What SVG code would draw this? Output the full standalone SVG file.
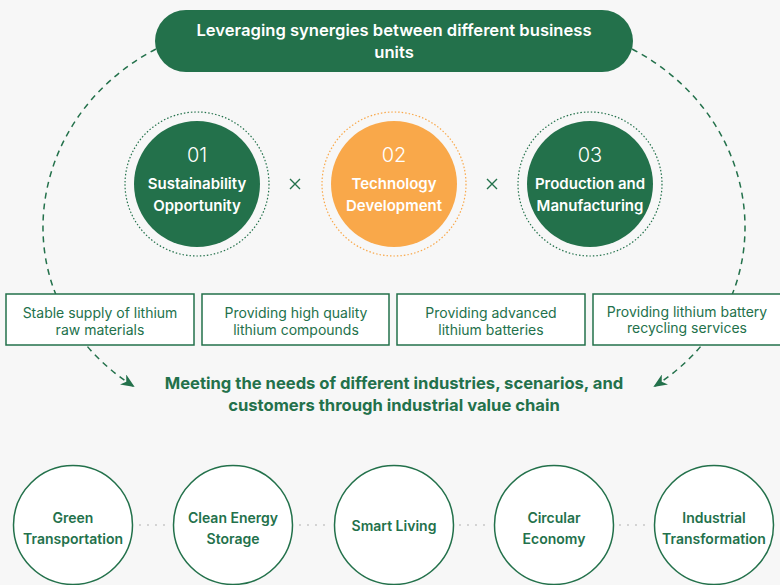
<svg xmlns="http://www.w3.org/2000/svg" width="780" height="585" viewBox="0 0 780 585">
<style>
.t{font-family:Inter,"Noto Sans","Liberation Sans",sans-serif;text-anchor:middle}
.w{fill:#fff}
.g{fill:#23714b}
.b{font-weight:600}
.pill{fill:#23714b}
.ring{fill:none;stroke-width:1.2;stroke-dasharray:1.5 2}
.box{fill:#fff;stroke:#23714b;stroke-width:1.5}
.bc{fill:#fff;stroke:#23714b;stroke-width:1.5}
.arc{fill:none;stroke:#23714b;stroke-width:1.5;stroke-dasharray:6 5}
.dots{stroke:#c8c8c8;stroke-width:2;stroke-linecap:round;stroke-dasharray:0 8}
.x{stroke:#23714b;stroke-width:1.4}
</style>
<defs>
<marker id="ah" viewBox="0 0 14 12" refX="12" refY="6" markerWidth="14" markerHeight="12" markerUnits="userSpaceOnUse" orient="auto">
<path d="M0,0 L14,6 L0,12 L4,6 Z" fill="#23714b"/>
</marker>
</defs>
<rect width="780" height="585" fill="#f7f7f7"/>
<g id="connectors">
<path class="arc" d="M156,49 C20,120 0,300 133,386" marker-end="url(#ah)"/>
<path class="arc" d="M632,49 C768,120 788,300 655,386" marker-end="url(#ah)"/>
<line class="dots" x1="140" y1="525" x2="168" y2="525"/>
<line class="dots" x1="300" y1="525" x2="328" y2="525"/>
<line class="dots" x1="460" y1="525" x2="488" y2="525"/>
<line class="dots" x1="620" y1="525" x2="648" y2="525"/>
</g>
<g id="top">
<rect class="pill" x="155" y="10" width="478" height="62" rx="31"/>
<text class="t w b" font-size="16.6"><tspan x="394" y="36">Leveraging synergies between different business</tspan><tspan x="394" y="58">units</tspan></text>
</g>
<g id="n1">
<circle class="ring" cx="197" cy="184" r="72" stroke="#23714b"/>
<circle cx="197" cy="184" r="63" fill="#23714b"/>
<text class="t w" font-size="20" font-weight="300" x="197" y="162">01</text>
<text class="t w b" font-size="15"><tspan x="197" y="189">Sustainability</tspan><tspan x="197" y="211">Opportunity</tspan></text>
</g>
<g id="n2">
<circle class="ring" cx="394" cy="184" r="72" stroke="#f9a84a"/>
<circle cx="394" cy="184" r="63" fill="#f9a84a"/>
<text class="t w" font-size="20" font-weight="300" x="394" y="162">02</text>
<text class="t w b" font-size="15"><tspan x="394" y="189">Technology</tspan><tspan x="394" y="211">Development</tspan></text>
</g>
<g id="n3">
<circle class="ring" cx="590" cy="184" r="72" stroke="#23714b"/>
<circle cx="590" cy="184" r="63" fill="#23714b"/>
<text class="t w" font-size="20" font-weight="300" x="590" y="162">03</text>
<text class="t w b" font-size="15"><tspan x="590" y="189">Production and</tspan><tspan x="590" y="211">Manufacturing</tspan></text>
</g>
<g id="times">
<path class="x" d="M290,179 L300,189 M300,179 L290,189"/>
<path class="x" d="M487,179 L497,189 M497,179 L487,189"/>
</g>
<g id="b1">
<rect class="box" x="6" y="294" width="188" height="51"/>
<text class="t g" font-size="14"><tspan x="100" y="318">Stable supply of lithium</tspan><tspan x="100" y="335">raw materials</tspan></text>
</g>
<g id="b2">
<rect class="box" x="202" y="294" width="187" height="51"/>
<text class="t g" font-size="14"><tspan x="296" y="318">Providing high quality</tspan><tspan x="296" y="335">lithium compounds</tspan></text>
</g>
<g id="b3">
<rect class="box" x="397" y="294" width="188" height="51"/>
<text class="t g" font-size="14"><tspan x="491" y="318">Providing advanced</tspan><tspan x="491" y="335">lithium batteries</tspan></text>
</g>
<g id="b4">
<rect class="box" x="593" y="294" width="188" height="51"/>
<text class="t g" font-size="14"><tspan x="687" y="317">Providing lithium battery</tspan><tspan x="687" y="333">recycling services</tspan></text>
</g>
<g id="meeting">
<text class="t g" font-size="16.6" font-weight="700"><tspan x="394" y="389">Meeting the needs of different industries, scenarios, and</tspan><tspan x="394" y="411">customers through industrial value chain</tspan></text>
</g>
<g id="c1">
<circle class="bc" cx="73" cy="525" r="59.5"/>
<text class="t g b" font-size="14"><tspan x="73" y="523">Green</tspan><tspan x="73" y="544">Transportation</tspan></text>
</g>
<g id="c2">
<circle class="bc" cx="233" cy="525" r="59.5"/>
<text class="t g b" font-size="14"><tspan x="233" y="523">Clean Energy</tspan><tspan x="233" y="544">Storage</tspan></text>
</g>
<g id="c3">
<circle class="bc" cx="394" cy="525" r="59.5"/>
<text class="t g b" font-size="14" x="394" y="531">Smart Living</text>
</g>
<g id="c4">
<circle class="bc" cx="554" cy="525" r="59.5"/>
<text class="t g b" font-size="14"><tspan x="554" y="523">Circular</tspan><tspan x="554" y="544">Economy</tspan></text>
</g>
<g id="c5">
<circle class="bc" cx="714" cy="525" r="59.5"/>
<text class="t g b" font-size="14"><tspan x="714" y="523">Industrial</tspan><tspan x="714" y="544">Transformation</tspan></text>
</g>
</svg>
